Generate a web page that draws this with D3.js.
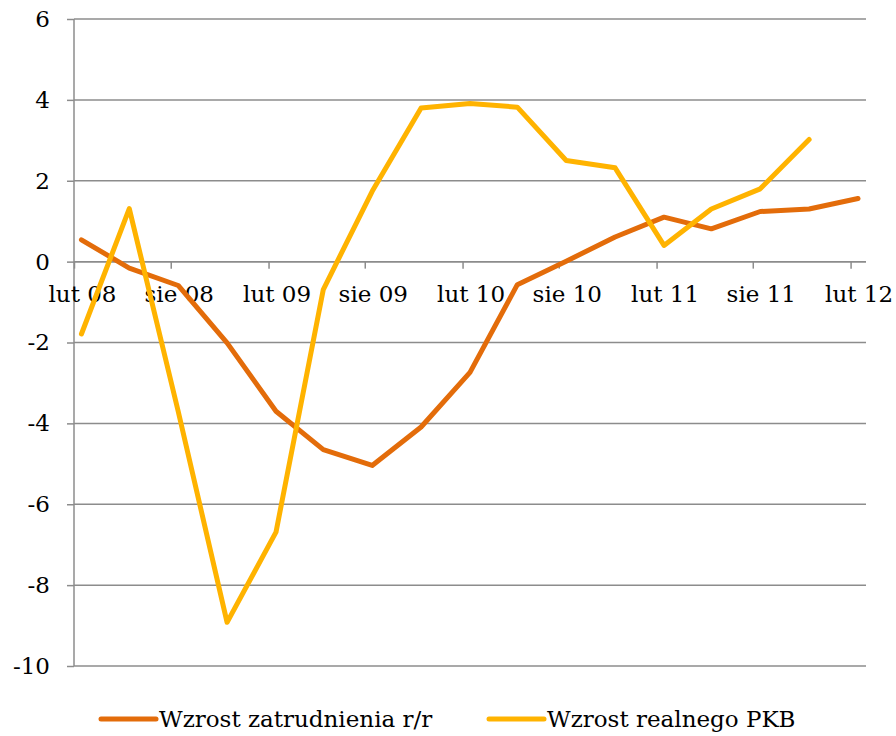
<!DOCTYPE html>
<html>
<head>
<meta charset="utf-8">
<script src="https://cdn.jsdelivr.net/npm/d3@7"></script>
<style>
  html, body { margin: 0; padding: 0; background: #fff; }
  svg { display: block; }
  text { font-family: Georgia, "DejaVu Serif", serif; }
  .grid line { stroke: #8c8c8c; stroke-width: 1.5px; }
  .axis path, .axis line { stroke: #8c8c8c; stroke-width: 1.5px; }
  .axis text { fill: #000; font-size: 23px; }
  .series { fill: none; stroke-width: 5px; stroke-linejoin: round; stroke-linecap: round; }
  .legend text { font-size: 23px; fill: #000; }
</style>
</head>
<body>
<svg id="chart" width="896" height="736"></svg>
<script>
// quarterly observations, month of the quarter
const periods = ['2008-02', '2008-05', '2008-08', '2008-11', '2009-02', '2009-05', '2009-08', '2009-11',
                 '2010-02', '2010-05', '2010-08', '2010-11', '2011-02', '2011-05', '2011-08', '2011-11', '2012-02'];

const employment = [0.54, -0.16, -0.59, -2.01, -3.70, -4.65, -5.04, -4.09,
                    -2.74, -0.57, 0.01, 0.61, 1.10, 0.81, 1.24, 1.30, 1.56];

const gdp = [-1.79, 1.31, -3.7, -8.92, -6.69, -0.69, 1.74, 3.80,
             3.91, 3.82, 2.50, 2.32, 0.40, 1.30, 1.80, 3.02];

const seriesNames = ['Wzrost zatrudnienia r/r', 'Wzrost realnego PKB'];
const seriesColors = ['#e36c0a', '#ffb300'];

const tickPeriods = ['2008-02', '2008-08', '2009-02', '2009-08', '2010-02', '2010-08', '2011-02', '2011-08', '2012-02'];
const tickLabels = ['lut 08', 'sie 08', 'lut 09', 'sie 09', 'lut 10', 'sie 10', 'lut 11', 'sie 11', 'lut 12'];

const yTicks = [-10, -8, -6, -4, -2, 0, 2, 4, 6];

const parseMonth = d3.timeParse('%Y-%m');
const midMonth = p => d3.timeDay.offset(parseMonth(p), 14);

const svg = d3.select('#chart');
const plotLeft = 74, plotRight = 866, plotTop = 19, plotBottom = 666;

const x = d3.scaleTime()
    .domain([parseMonth('2008-02'), parseMonth('2012-03')])
    .range([plotLeft, plotRight]);

const y = d3.scaleLinear()
    .domain([-10, 6])
    .range([plotBottom, plotTop]);

// horizontal grid
svg.append('g')
    .attr('class', 'grid')
    .selectAll('line')
    .data(yTicks)
    .enter().append('line')
    .attr('x1', plotLeft)
    .attr('x2', plotRight)
    .attr('y1', d => y(d))
    .attr('y2', d => y(d));

// y axis
const yAxis = svg.append('g')
    .attr('class', 'axis')
    .attr('transform', `translate(${plotLeft},0)`)
    .call(d3.axisLeft(y).tickValues(yTicks).tickSize(7).tickPadding(17).tickFormat(d => String(d)));
yAxis.attr('font-family', null).attr('font-size', null);
yAxis.select('.domain').attr('d', `M0,${plotTop}V${plotBottom}`);

// x axis crossing at zero
const xAxis = svg.append('g')
    .attr('class', 'axis')
    .attr('transform', `translate(0,${y(0)})`)
    .call(d3.axisBottom(x)
        .tickValues(tickPeriods.map(parseMonth))
        .tickSize(7)
        .tickPadding(17)
        .tickFormat((d, i) => tickLabels[i]));
xAxis.attr('font-family', null).attr('font-size', null);
xAxis.select('.domain').attr('d', `M${plotLeft},0H${plotRight}`);
xAxis.selectAll('.tick text').attr('dx', 8);

// lines
const line = d3.line()
    .x((d, i) => x(midMonth(periods[i])))
    .y(d => y(d));

[employment, gdp].forEach((values, k) => {
    svg.append('path')
        .datum(values)
        .attr('class', 'series')
        .attr('stroke', seriesColors[k])
        .attr('d', line);
});

// legend
const legendPos = [101, 489];
const legend = svg.append('g').attr('class', 'legend');
seriesNames.forEach((name, k) => {
    const g = legend.append('g').attr('transform', `translate(${legendPos[k]},719)`);
    g.append('line')
        .attr('x1', 0).attr('x2', 55)
        .attr('stroke', seriesColors[k])
        .attr('stroke-width', 5)
        .attr('stroke-linecap', 'round');
    g.append('text')
        .attr('x', 58)
        .attr('y', 8)
        .text(name);
});
</script>
</body>
</html>
